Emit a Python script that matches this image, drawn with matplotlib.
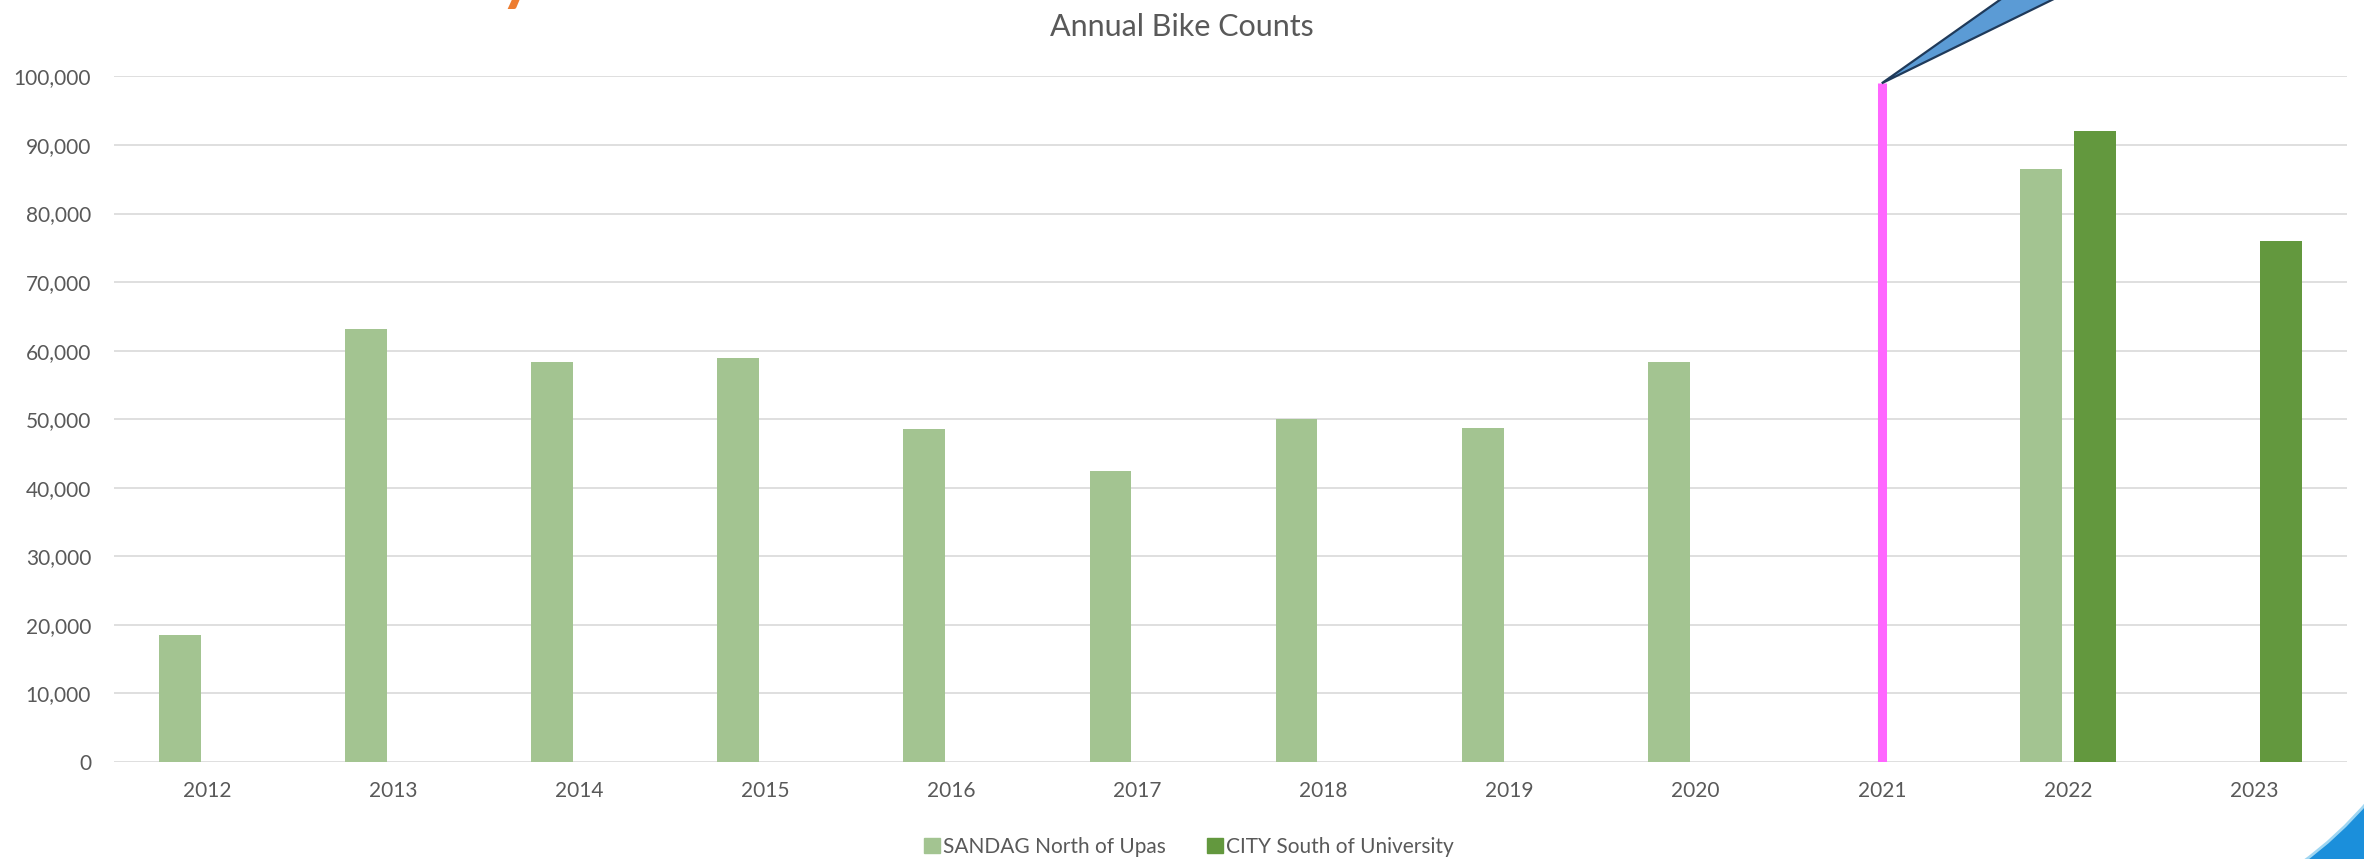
import numpy as np
import matplotlib
matplotlib.use("Agg")
import matplotlib.pyplot as plt
from matplotlib.patches import Polygon, PathPatch, Patch
from matplotlib.path import Path
from matplotlib.transforms import IdentityTransform

plt.rcParams['font.family'] = ['Lato', 'DejaVu Sans']

# data
years = ['2012', '2013', '2014', '2015', '2016', '2017',
         '2018', '2019', '2020', '2021', '2022', '2023']
sandag = [18500, 63100, 58400, 58900, 48600, 42400,
          50000, 48700, 58300, np.nan, 86500, np.nan]
city = [np.nan] * 10 + [92000, 76000]
marker_year = '2021'
marker_top = 99000

c_sandag = '#A3C491'
c_city = '#63983E'
c_text = '#595959'

fig = plt.figure(figsize=(23.64, 8.59), dpi=100)
ax = fig.add_axes([114 / 2364, 1 - 762 / 859, (2347 - 114) / 2364, (762 - 76.4) / 859])

x = np.arange(len(years))
w = 0.225
off = 0.145
ax.bar(x - off, sandag, w, color=c_sandag, zorder=3)
ax.bar(x + off, city, w, color=c_city, zorder=3)

# vertical marker at 2021
xm = years.index(marker_year)
ax.vlines(xm, 0, marker_top, color='#FF66FF', lw=6.5, zorder=4)

ax.set_xlim(-0.5, len(years) - 0.5)
ax.set_ylim(0, 100000)
ax.set_yticks(np.arange(0, 100001, 10000))
ax.yaxis.set_major_formatter(matplotlib.ticker.FuncFormatter(lambda v, p: f'{int(v):,}'))
ax.set_xticks(x)
ax.set_xticklabels(years)
ax.grid(axis='y', color='#D9D9D9', lw=1.2, zorder=0)
ax.set_axisbelow(True)
for s in ax.spines.values():
    s.set_visible(False)
ax.tick_params(axis='y', length=0, pad=16.5, labelsize=15, labelcolor=c_text)
ax.tick_params(axis='x', length=0, pad=14, labelsize=15, labelcolor=c_text)

fig.text(0.5, 1 - 27 / 859, 'Annual Bike Counts', ha='center', va='center',
         fontsize=22, color=c_text)

handles = [Patch(color=c_sandag, label='SANDAG North of Upas'),
           Patch(color=c_city, label='CITY South of University')]
fig.legend(handles=handles, loc='center', bbox_to_anchor=(0.503, 1 - 847 / 859),
           ncol=2, frameon=False, fontsize=15, labelcolor=c_text,
           handlelength=0.75, handleheight=0.75, handletextpad=0.15,
           columnspacing=2.0, borderpad=0)

# callout wedge from the top of the marker
fig.canvas.draw()
ax_, ay_ = ax.transData.transform((xm, marker_top))
wedge = Polygon([(ax_, ay_), (ax_ + 170, ay_ + 120), (ax_ + 245, ay_ + 120)],
                closed=True, facecolor='#5B9BD5', edgecolor='#1F3A5A', lw=1.6,
                transform=IdentityTransform(), zorder=10)
fig.add_artist(wedge)

# bit of the slide title cut off at the top
fig.text(500 / 2364, 1 + 3 / 859, 'y', ha='left', va='baseline', fontsize=48,
         fontweight='bold', color='#ED7D31')

# blue swoosh in the lower right corner
verts = [(2300, -5), (2338, 22), (2370, 60), (2370, -5), (2300, -5)]
codes = [Path.MOVETO, Path.CURVE3, Path.CURVE3, Path.LINETO, Path.CLOSEPOLY]
fig.add_artist(PathPatch(Path(verts, codes), facecolor='#1B8FDB',
                         edgecolor='#9FD6F2', lw=2, transform=IdentityTransform()))

fig.savefig('out.png', dpi=100)
